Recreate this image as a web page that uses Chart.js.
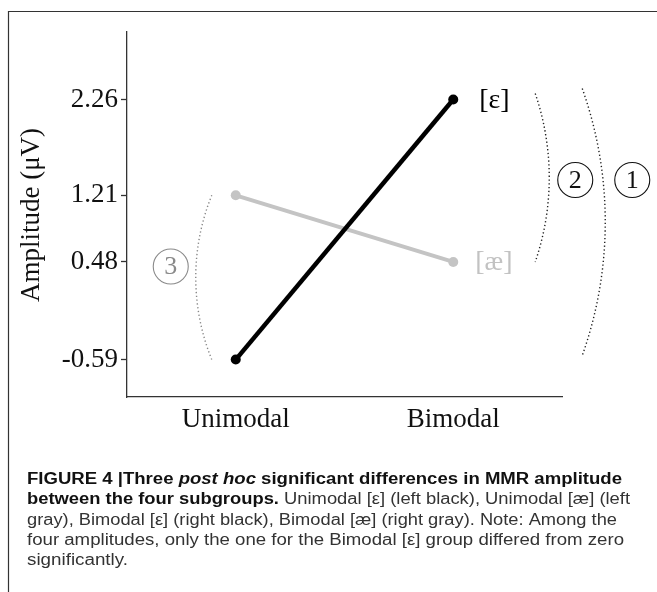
<!DOCTYPE html>
<html>
<head>
<meta charset="utf-8">
<script src="https://cdn.jsdelivr.net/npm/chart.js@4.4.0/dist/chart.umd.min.js"></script>
<style>
  html, body { margin: 0; padding: 0; background: #fff; }
  #wrap { position: relative; width: 657px; height: 592px; }
  canvas { display: block; }
</style>
</head>
<body>
<div id="wrap"><canvas id="c" width="657" height="592"></canvas></div>
<script>
// ---- data ----
const categories = ['Unimodal', 'Bimodal'];
const categoryPositions = [1, 2];
const seriesLabels = ['[ε]', '[æ]'];
const epsilonValues = [-0.59, 2.26];
const aeValues = [1.21, 0.48];
const yTickValues = [-0.59, 0.48, 1.21, 2.26];
const yAxisTitle = 'Amplitude (μV)';
const comparisons = ['1', '2', '3'];
const captionLines = [
  [['b', 'FIGURE 4 |Three '], ['bi', 'post hoc'], ['b', ' significant differences in MMR amplitude']],
  [['b', 'between the four subgroups.'], ['n', ' Unimodal [ε] (left black), Unimodal [æ] (left']],
  [['n', 'gray), Bimodal [ε] (right black), Bimodal [æ] (right gray). Note: Among the']],
  [['n', 'four amplitudes, only the one for the Bimodal [ε] group differed from zero']],
  [['n', 'significantly.']]
];

const SERIF = '"Liberation Serif", "Times New Roman", serif';
const SANS = '"Liberation Sans", Arial, sans-serif';

function toPoints(vals) { return vals.map((v, i) => ({ x: categoryPositions[i], y: v })); }

const overlay = {
  id: 'overlay',
  afterDraw(chart) {
    const ctx = chart.ctx;
    const xs = chart.scales.x, ys = chart.scales.y;
    ctx.save();
    // figure frame (top and left)
    ctx.strokeStyle = '#333';
    ctx.lineWidth = 1.2;
    ctx.beginPath();
    ctx.moveTo(657, 11.5); ctx.lineTo(8.5, 11.5); ctx.lineTo(8.5, 592);
    ctx.stroke();

    // y-axis title
    ctx.save();
    ctx.translate(32, 215);
    ctx.rotate(-Math.PI / 2);
    ctx.fillStyle = '#111';
    ctx.font = '27px ' + SERIF;
    ctx.textAlign = 'center';
    ctx.textBaseline = 'middle';
    ctx.fillText(yAxisTitle, 0, 0);
    ctx.restore();

    // series labels at the right
    const xb = xs.getPixelForValue(categoryPositions[1]);
    ctx.font = '28px ' + SERIF;
    ctx.textAlign = 'left';
    ctx.textBaseline = 'middle';
    ctx.fillStyle = '#000';
    ctx.fillText(seriesLabels[0], xb + 26, ys.getPixelForValue(epsilonValues[1]) + 1);
    ctx.fillStyle = '#c2c2c2';
    ctx.fillText(seriesLabels[1], xb + 22, ys.getPixelForValue(aeValues[1]) + 1);

    // dotted arcs: vertical chord from y1 to y2 at x0, bulging by s (sign = direction)
    function arc(x0, y1, y2, bulge, dir, color) {
      const L = Math.abs(y2 - y1);
      const R = (L * L / 4 + bulge * bulge) / (2 * bulge);
      const cy = (y1 + y2) / 2;
      const cx = x0 - dir * (R - bulge);
      const half = Math.asin((L / 2) / R);
      ctx.save();
      ctx.strokeStyle = color;
      ctx.lineWidth = 1.4;
      ctx.setLineDash([1.3, 2.5]);
      ctx.beginPath();
      if (dir > 0) ctx.arc(cx, cy, R, -half, half);
      else ctx.arc(cx, cy, R, Math.PI - half, Math.PI + half);
      ctx.stroke();
      ctx.restore();
    }
    const xu = xs.getPixelForValue(categoryPositions[0]);
    // comparison 3 (Unimodal [ε] vs Unimodal [æ])
    arc(xu - 24, ys.getPixelForValue(aeValues[0]), ys.getPixelForValue(epsilonValues[0]), 16, -1, '#888');
    // comparison 2 (Bimodal [ε] vs Bimodal [æ])
    arc(xb + 82, ys.getPixelForValue(epsilonValues[1]) - 6, ys.getPixelForValue(aeValues[1]), 14, 1, '#222');
    // comparison 1 (Bimodal [ε] vs Unimodal [ε])
    arc(xb + 129, ys.getPixelForValue(epsilonValues[1]) - 11, ys.getPixelForValue(epsilonValues[0]) - 4, 23, 1, '#222');

    // numbered circles
    function circ(x, y, txt, color) {
      ctx.save();
      ctx.strokeStyle = color;
      ctx.lineWidth = 1.1;
      ctx.beginPath();
      ctx.arc(x, y, 17.5, 0, Math.PI * 2);
      ctx.stroke();
      ctx.fillStyle = color;
      ctx.font = '26px ' + SERIF;
      ctx.textAlign = 'center';
      ctx.textBaseline = 'middle';
      ctx.fillText(txt, x, y + 1);
      ctx.restore();
    }
    const yMid3 = (ys.getPixelForValue(aeValues[0]) + ys.getPixelForValue(epsilonValues[0])) / 2;
    circ(xu - 65, yMid3 - 11, comparisons[2], '#8a8a8a');
    circ(xb + 122, 180, comparisons[1], '#111');
    circ(xb + 179, 180, comparisons[0], '#111');

    // caption
    const targets = [595, 603, 590, 597, 101];
    const baselines = [484, 504.3, 524.6, 544.9, 565.2];
    const fontFor = k => (k === 'b' ? 'bold ' : k === 'bi' ? 'italic bold ' : '') + '16px ' + SANS;
    ctx.textAlign = 'left';
    ctx.textBaseline = 'alphabetic';
    captionLines.forEach((segs, i) => {
      let w = 0;
      segs.forEach(([k, t]) => { ctx.font = fontFor(k); w += ctx.measureText(t).width; });
      const sc = targets[i] / w;
      ctx.save();
      ctx.translate(27, baselines[i]);
      ctx.scale(sc, 1);
      let x = 0;
      segs.forEach(([k, t]) => {
        ctx.font = fontFor(k);
        ctx.fillStyle = k === 'n' ? '#333' : '#111';
        ctx.fillText(t, x, 0);
        x += ctx.measureText(t).width;
      });
      ctx.restore();
    });
    ctx.restore();
  }
};

new Chart(document.getElementById('c'), {
  type: 'line',
  data: {
    datasets: [
      {
        label: seriesLabels[0],
        data: toPoints(epsilonValues),
        borderColor: '#000',
        backgroundColor: '#000',
        borderWidth: 4.5,
        pointRadius: 5,
        pointBorderWidth: 0,
        pointBackgroundColor: '#000',
        order: 0
      },
      {
        label: seriesLabels[1],
        data: toPoints(aeValues),
        borderColor: '#c4c4c4',
        backgroundColor: '#c4c4c4',
        borderWidth: 4,
        pointRadius: 5,
        pointBorderWidth: 0,
        pointBackgroundColor: '#c4c4c4',
        order: 1
      }
    ]
  },
  options: {
    responsive: false,
    animation: false,
    devicePixelRatio: 1,
    layout: { padding: { left: 0, top: 32, right: 95, bottom: 135 } },
    plugins: { legend: { display: false }, tooltip: { enabled: false }, title: { display: false } },
    scales: {
      x: {
        type: 'linear',
        min: 0.5, max: 2.5,
        afterBuildTicks: ax => { ax.ticks = categoryPositions.map(v => ({ value: v })); },
        afterFit: ax => { ax.height = 60; },
        ticks: {
          callback: v => categories[categoryPositions.indexOf(v)],
          font: { family: SERIF, size: 27 },
          color: '#111',
          padding: 7,
          maxRotation: 0,
          autoSkip: false
        },
        grid: { display: true, drawOnChartArea: false, drawTicks: false },
        border: { display: true, color: '#333', width: 1.3 }
      },
      y: {
        type: 'linear',
        min: -1, max: 3,
        afterBuildTicks: ax => { ax.ticks = yTickValues.map(v => ({ value: v })); },
        afterFit: ax => { ax.width = 127; },
        ticks: {
          callback: v => v.toFixed(2),
          font: { family: SERIF, size: 27 },
          color: '#111',
          padding: 3,
          autoSkip: false
        },
        grid: { display: true, drawOnChartArea: false, drawTicks: true, tickLength: 6, color: '#333', tickWidth: 1.3 },
        border: { display: true, color: '#333', width: 1.3 }
      }
    }
  },
  plugins: [overlay]
});
</script>
</body>
</html>
